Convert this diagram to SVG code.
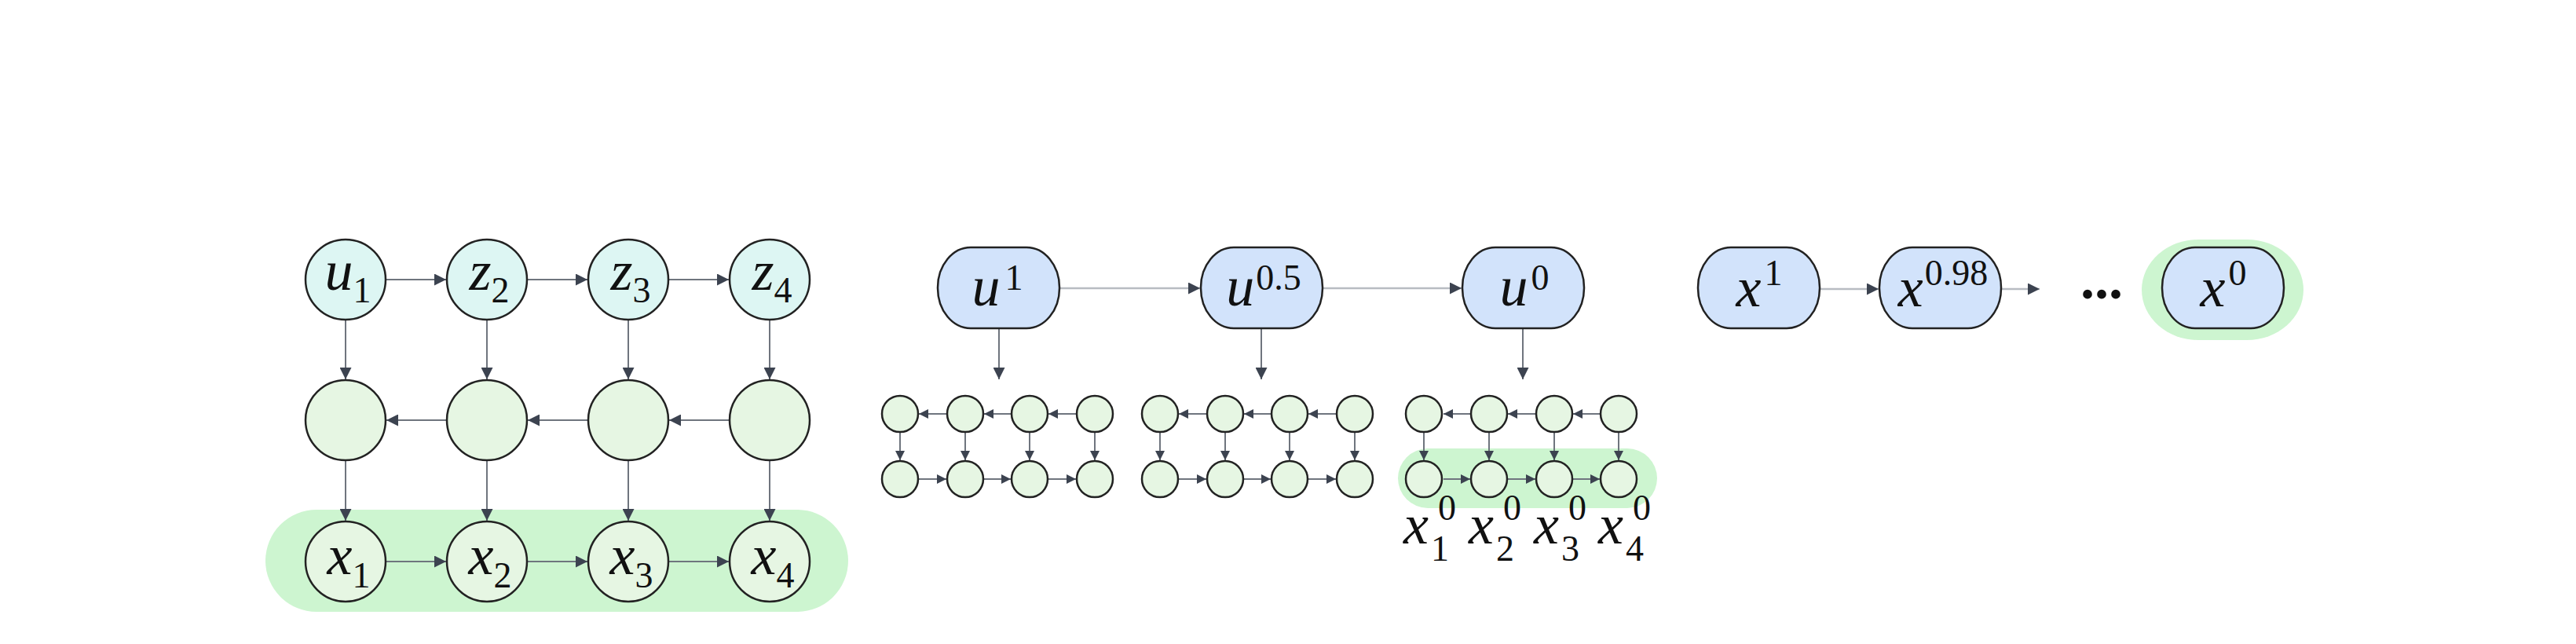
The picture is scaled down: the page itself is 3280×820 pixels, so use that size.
<svg xmlns="http://www.w3.org/2000/svg" width="3280" height="820" viewBox="0 0 3280 820">
<style>
.bg{fill:#ffffff}
.band{fill:#cdf5d0}
.cy{fill:#ddf6f3;stroke:#222;stroke-width:2.5}
.gr{fill:#e6f6e3;stroke:#222;stroke-width:2.5}
.bl{fill:#d2e3fb;stroke:#222;stroke-width:2.5}
.e{stroke:#6f757e;stroke-width:2;fill:none;marker-end:url(#ah)}
.es{stroke:#6f757e;stroke-width:2;fill:none;marker-end:url(#ahs)}
.el{stroke:#b8bcc2;stroke-width:2.5;fill:none;marker-end:url(#ah)}
.m{font-family:'Liberation Serif',serif;font-style:italic;font-size:72px;fill:#111}
.s{font-family:'Liberation Serif',serif;font-style:normal;font-size:46px;fill:#111}
.d{font-family:'Liberation Serif',serif;font-weight:bold;font-size:72px;fill:#111}
</style>
<defs>
<marker id="ah" viewBox="0 0 10 10" refX="10" refY="5" markerWidth="20" markerHeight="15" markerUnits="userSpaceOnUse" orient="auto">
<path d="M0,0 L10,5 L0,10 z" fill="#3c4350"/>
</marker>
<marker id="ahs" viewBox="0 0 10 10" refX="10" refY="5" markerWidth="16" markerHeight="12" markerUnits="userSpaceOnUse" orient="auto">
<path d="M0,0 L10,5 L0,10 z" fill="#3c4350"/>
</marker>
</defs>
<rect class="bg" x="0" y="0" width="3280" height="820"/>

<g id="highlights">
<rect class="band" x="338" y="649" width="742" height="130" rx="65" ry="65"/>
<rect class="band" x="1780" y="571" width="330" height="76" rx="38" ry="38"/>
<rect class="band" x="2727" y="305" width="206" height="128" rx="72" ry="64"/>
</g>

<g id="connectors">
<line class="e" x1="492" y1="356" x2="568" y2="356"/>
<line class="e" x1="672" y1="356" x2="748" y2="356"/>
<line class="e" x1="852" y1="356" x2="928" y2="356"/>
<line class="e" x1="440" y1="408" x2="440" y2="483"/>
<line class="e" x1="620" y1="408" x2="620" y2="483"/>
<line class="e" x1="800" y1="408" x2="800" y2="483"/>
<line class="e" x1="980" y1="408" x2="980" y2="483"/>
<line class="e" x1="440" y1="587" x2="440" y2="663"/>
<line class="e" x1="620" y1="587" x2="620" y2="663"/>
<line class="e" x1="800" y1="587" x2="800" y2="663"/>
<line class="e" x1="980" y1="587" x2="980" y2="663"/>
<line class="e" x1="568" y1="535" x2="492" y2="535"/>
<line class="e" x1="748" y1="535" x2="672" y2="535"/>
<line class="e" x1="928" y1="535" x2="852" y2="535"/>
<line class="e" x1="492" y1="715" x2="568" y2="715"/>
<line class="e" x1="672" y1="715" x2="748" y2="715"/>
<line class="e" x1="852" y1="715" x2="928" y2="715"/>

<line class="el" x1="1350" y1="367" x2="1528" y2="367"/>
<line class="el" x1="1684" y1="367" x2="1861" y2="367"/>
<line class="e" x1="1272" y1="419" x2="1272" y2="483"/>
<line class="e" x1="1606" y1="419" x2="1606" y2="483"/>
<line class="e" x1="1939" y1="419" x2="1939" y2="483"/>

<line class="es" x1="1205" y1="527" x2="1170" y2="527"/>
<line class="es" x1="1287" y1="527" x2="1253" y2="527"/>
<line class="es" x1="1370" y1="527" x2="1335" y2="527"/>
<line class="es" x1="1146" y1="551" x2="1146" y2="586"/>
<line class="es" x1="1229" y1="551" x2="1229" y2="586"/>
<line class="es" x1="1311" y1="551" x2="1311" y2="586"/>
<line class="es" x1="1394" y1="551" x2="1394" y2="586"/>
<line class="es" x1="1170" y1="610" x2="1205" y2="610"/>
<line class="es" x1="1253" y1="610" x2="1287" y2="610"/>
<line class="es" x1="1335" y1="610" x2="1370" y2="610"/>
<line class="es" x1="1536" y1="527" x2="1501" y2="527"/>
<line class="es" x1="1618" y1="527" x2="1584" y2="527"/>
<line class="es" x1="1701" y1="527" x2="1666" y2="527"/>
<line class="es" x1="1477" y1="551" x2="1477" y2="586"/>
<line class="es" x1="1560" y1="551" x2="1560" y2="586"/>
<line class="es" x1="1642" y1="551" x2="1642" y2="586"/>
<line class="es" x1="1725" y1="551" x2="1725" y2="586"/>
<line class="es" x1="1501" y1="610" x2="1536" y2="610"/>
<line class="es" x1="1584" y1="610" x2="1618" y2="610"/>
<line class="es" x1="1666" y1="610" x2="1701" y2="610"/>
<line class="es" x1="1872" y1="527" x2="1838" y2="527"/>
<line class="es" x1="1955" y1="527" x2="1920" y2="527"/>
<line class="es" x1="2037" y1="527" x2="2003" y2="527"/>
<line class="es" x1="1813" y1="551" x2="1813" y2="586"/>
<line class="es" x1="1896" y1="551" x2="1896" y2="586"/>
<line class="es" x1="1979" y1="551" x2="1979" y2="586"/>
<line class="es" x1="2061" y1="551" x2="2061" y2="586"/>
<line class="es" x1="1838" y1="610" x2="1872" y2="610"/>
<line class="es" x1="1920" y1="610" x2="1955" y2="610"/>
<line class="es" x1="2003" y1="610" x2="2037" y2="610"/>

<line class="el" x1="2317" y1="368" x2="2392" y2="368"/>
<line class="el" x1="2548" y1="368" x2="2597" y2="368"/>
</g>

<g id="u1"><circle class="cy" cx="440" cy="356" r="51"/><text class="m" x="443" y="369" text-anchor="middle">u<tspan class="s" dy="16">1</tspan></text></g>
<g id="z2"><circle class="cy" cx="620" cy="356" r="51"/><text class="m" x="623" y="369" text-anchor="middle">z<tspan class="s" dy="16">2</tspan></text></g>
<g id="z3"><circle class="cy" cx="800" cy="356" r="51"/><text class="m" x="803" y="369" text-anchor="middle">z<tspan class="s" dy="16">3</tspan></text></g>
<g id="z4"><circle class="cy" cx="980" cy="356" r="51"/><text class="m" x="983" y="369" text-anchor="middle">z<tspan class="s" dy="16">4</tspan></text></g>
<g id="h1"><circle class="gr" cx="440" cy="535" r="51"/></g>
<g id="h2"><circle class="gr" cx="620" cy="535" r="51"/></g>
<g id="h3"><circle class="gr" cx="800" cy="535" r="51"/></g>
<g id="h4"><circle class="gr" cx="980" cy="535" r="51"/></g>
<g id="x1"><circle class="gr" cx="440" cy="715" r="51"/><text class="m" x="444" y="731" text-anchor="middle">x<tspan class="s" dy="17">1</tspan></text></g>
<g id="x2"><circle class="gr" cx="620" cy="715" r="51"/><text class="m" x="624" y="731" text-anchor="middle">x<tspan class="s" dy="17">2</tspan></text></g>
<g id="x3"><circle class="gr" cx="800" cy="715" r="51"/><text class="m" x="804" y="731" text-anchor="middle">x<tspan class="s" dy="17">3</tspan></text></g>
<g id="x4"><circle class="gr" cx="980" cy="715" r="51"/><text class="m" x="984" y="731" text-anchor="middle">x<tspan class="s" dy="17">4</tspan></text></g>

<g id="u_1"><rect class="bl" x="1194" y="315" width="155" height="103" rx="42" ry="51"/><text class="m" x="1270" y="389" text-anchor="middle">u<tspan class="s" dx="6" dy="-20">1</tspan></text></g>
<g id="u_05"><rect class="bl" x="1529" y="315" width="155" height="103" rx="42" ry="51"/><text class="m" x="1609" y="389" text-anchor="middle">u<tspan class="s" dx="2" dy="-20">0.5</tspan></text></g>
<g id="u_0"><rect class="bl" x="1862" y="315" width="155" height="103" rx="42" ry="51"/><text class="m" x="1941" y="389" text-anchor="middle">u<tspan class="s" dx="4" dy="-20">0</tspan></text></g>

<g id="grid1">
<circle class="gr" cx="1146" cy="527" r="23"/><circle class="gr" cx="1229" cy="527" r="23"/><circle class="gr" cx="1311" cy="527" r="23"/><circle class="gr" cx="1394" cy="527" r="23"/>
<circle class="gr" cx="1146" cy="610" r="23"/><circle class="gr" cx="1229" cy="610" r="23"/><circle class="gr" cx="1311" cy="610" r="23"/><circle class="gr" cx="1394" cy="610" r="23"/>
</g>
<g id="grid2">
<circle class="gr" cx="1477" cy="527" r="23"/><circle class="gr" cx="1560" cy="527" r="23"/><circle class="gr" cx="1642" cy="527" r="23"/><circle class="gr" cx="1725" cy="527" r="23"/>
<circle class="gr" cx="1477" cy="610" r="23"/><circle class="gr" cx="1560" cy="610" r="23"/><circle class="gr" cx="1642" cy="610" r="23"/><circle class="gr" cx="1725" cy="610" r="23"/>
</g>
<g id="grid3">
<circle class="gr" cx="1813" cy="527" r="23"/><circle class="gr" cx="1896" cy="527" r="23"/><circle class="gr" cx="1979" cy="527" r="23"/><circle class="gr" cx="2061" cy="527" r="23"/>
<circle class="gr" cx="1813" cy="610" r="23"/><circle class="gr" cx="1896" cy="610" r="23"/><circle class="gr" cx="1979" cy="610" r="23"/><circle class="gr" cx="2061" cy="610" r="23"/>
</g>
<g id="labels_x0">
<text class="m" x="1787" y="692">x</text><text class="s" x="1822" y="714">1</text><text class="s" x="1831" y="662">0</text>
<text class="m" x="1870" y="692">x</text><text class="s" x="1905" y="714">2</text><text class="s" x="1914" y="662">0</text>
<text class="m" x="1953" y="692">x</text><text class="s" x="1988" y="714">3</text><text class="s" x="1997" y="662">0</text>
<text class="m" x="2035" y="692">x</text><text class="s" x="2070" y="714">4</text><text class="s" x="2079" y="662">0</text>
</g>

<g id="x_1"><rect class="bl" x="2162" y="315" width="155" height="103" rx="42" ry="51"/><text class="m" x="2240" y="390" text-anchor="middle">x<tspan class="s" dx="4" dy="-27">1</tspan></text></g>
<g id="x_098"><rect class="bl" x="2393" y="315" width="155" height="103" rx="42" ry="51"/><text class="m" x="2474" y="390" text-anchor="middle">x<tspan class="s" dx="2" dy="-27">0.98</tspan></text></g>
<g id="dots"><text class="d" x="2676" y="380" text-anchor="middle">...</text></g>
<g id="x_0"><rect class="bl" x="2753" y="315" width="155" height="103" rx="42" ry="51"/><text class="m" x="2831" y="390" text-anchor="middle">x<tspan class="s" dx="4" dy="-27">0</tspan></text></g>
</svg>
